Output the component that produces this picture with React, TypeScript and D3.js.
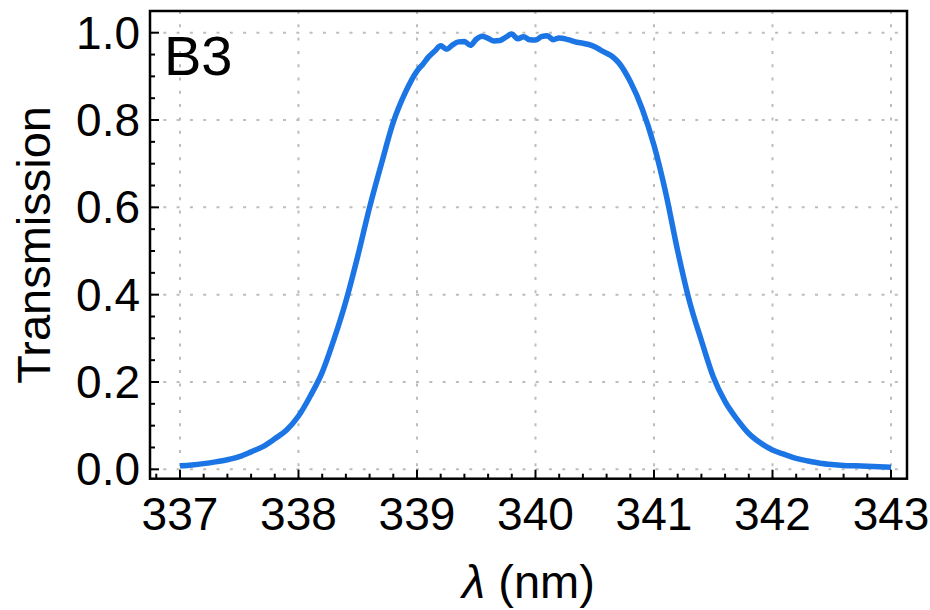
import { useEffect, useRef } from 'react';
import * as d3 from 'd3';

const wavelength = [
  337.0, 337.1, 337.2, 337.3, 337.4, 337.5, 337.6, 337.7, 337.8, 337.9,
  338.0, 338.1, 338.2, 338.3, 338.4, 338.5, 338.6, 338.7, 338.8, 338.9,
  339.0, 339.05, 339.1, 339.15, 339.2, 339.25, 339.3, 339.35, 339.4, 339.45,
  339.5, 339.55, 339.6, 339.65, 339.7, 339.75, 339.8, 339.85, 339.9, 339.95,
  340.0, 340.05, 340.1, 340.15, 340.2, 340.25, 340.3, 340.35, 340.4, 340.45,
  340.5, 340.55, 340.6, 340.65, 340.7, 340.8, 340.9, 341.0, 341.1, 341.2,
  341.3, 341.4, 341.5, 341.6, 341.7, 341.8, 341.9, 342.0, 342.1, 342.2,
  342.3, 342.4, 342.5, 342.6, 342.7, 342.8, 342.9, 343.0,
];
const transmission = [
  0.008, 0.010, 0.013, 0.017, 0.022, 0.029, 0.040, 0.052, 0.070, 0.090,
  0.122, 0.168, 0.222, 0.298, 0.385, 0.488, 0.600, 0.700, 0.795, 0.862,
  0.912, 0.928, 0.945, 0.958, 0.970, 0.962, 0.972, 0.979, 0.980, 0.971,
  0.985, 0.992, 0.987, 0.981, 0.982, 0.990, 0.997, 0.986, 0.991, 0.984,
  0.983, 0.991, 0.993, 0.984, 0.988, 0.986, 0.982, 0.978, 0.976, 0.973,
  0.968, 0.960, 0.953, 0.945, 0.932, 0.888, 0.826, 0.742, 0.632, 0.500,
  0.384, 0.295, 0.212, 0.155, 0.115, 0.082, 0.060, 0.044, 0.034, 0.025,
  0.019, 0.014, 0.011, 0.009, 0.008, 0.007, 0.006, 0.005,
];
const xTicks = [337, 338, 339, 340, 341, 342, 343];
const yTicks = [0, 0.2, 0.4, 0.6, 0.8, 1.0];
const panelLabel = 'B3';

const W = 930;
const H = 610;
const font = '"Liberation Sans", Arial, Helvetica, sans-serif';

export default function App() {
  const svgRef = useRef<SVGSVGElement>(null);

  useEffect(() => {
    if (!svgRef.current) return;
    const svg = d3.select(svgRef.current);
    svg.selectAll('*').remove();

    const left = 150, right = 907, top = 11, bottom = 478.7;

    const x = d3.scaleLinear().domain([336.747, 343.135]).range([left, right]);
    const y = d3.scaleLinear().domain([-0.0215, 1.0497]).range([bottom, top]);

    const grid = svg.append('g')
      .attr('stroke', '#bdbdbd')
      .attr('stroke-width', 2)
      .attr('stroke-dasharray', '3,10.3');

    // Grid lines
    grid.selectAll('.gx')
      .data(xTicks)
      .enter()
      .append('line')
      .attr('x1', d => x(d))
      .attr('x2', d => x(d))
      .attr('y1', top)
      .attr('y2', bottom);

    grid.selectAll('.gy')
      .data(yTicks)
      .enter()
      .append('line')
      .attr('x1', left)
      .attr('x2', right)
      .attr('y1', d => y(d))
      .attr('y2', d => y(d));

    // Curve
    const pts = wavelength.map((w, i) => [w, transmission[i]] as [number, number]);
    const line = d3.line<[number, number]>()
      .x(d => x(d[0]))
      .y(d => y(d[1]))
      .curve(d3.curveMonotoneX);

    svg.append('path')
      .datum(pts)
      .attr('d', line)
      .attr('fill', 'none')
      .attr('stroke', '#1c75e5')
      .attr('stroke-width', 5.5)
      .attr('stroke-linejoin', 'round')
      .attr('stroke-linecap', 'butt');

    // Ticks (inward)
    const xMinor = d3.range(336.8, 343.13, 0.2).filter(v => !xTicks.some(t => Math.abs(t - v) < 1e-6));
    const yMinor = d3.range(0, 1.04, 0.05).filter(v => !yTicks.some(t => Math.abs(t - v) < 1e-6));

    const ticks = svg.append('g').attr('stroke', '#000').attr('stroke-width', 2);
    ticks.selectAll('.xM').data(xTicks).enter().append('line')
      .attr('x1', d => x(d)).attr('x2', d => x(d))
      .attr('y1', bottom).attr('y2', bottom - 9);
    ticks.selectAll('.xm').data(xMinor).enter().append('line')
      .attr('x1', d => x(d)).attr('x2', d => x(d))
      .attr('y1', bottom).attr('y2', bottom - 5);
    ticks.selectAll('.yM').data(yTicks).enter().append('line')
      .attr('x1', left).attr('x2', left + 9)
      .attr('y1', d => y(d)).attr('y2', d => y(d));
    ticks.selectAll('.ym').data(yMinor).enter().append('line')
      .attr('x1', left).attr('x2', left + 5)
      .attr('y1', d => y(d)).attr('y2', d => y(d));

    // Frame
    svg.append('rect')
      .attr('x', left)
      .attr('y', top)
      .attr('width', right - left)
      .attr('height', bottom - top)
      .attr('fill', 'none')
      .attr('stroke', '#000')
      .attr('stroke-width', 2.5);

    // Tick labels
    svg.selectAll('.xl').data(xTicks).enter().append('text')
      .attr('x', d => x(d))
      .attr('y', 530)
      .attr('text-anchor', 'middle')
      .attr('font-family', font)
      .attr('font-size', 46)
      .text(d => d3.format('d')(d));

    svg.selectAll('.yl').data(yTicks).enter().append('text')
      .attr('x', 140)
      .attr('y', d => y(d) + 16)
      .attr('text-anchor', 'end')
      .attr('font-family', font)
      .attr('font-size', 46)
      .text(d => d3.format('.1f')(d));

    // Axis titles
    const xt = svg.append('text')
      .attr('x', (left + right) / 2)
      .attr('y', 598)
      .attr('text-anchor', 'middle')
      .attr('font-family', font)
      .attr('font-size', 47);
    xt.append('tspan').attr('font-style', 'italic').text('λ');
    xt.append('tspan').text(' (nm)');

    svg.append('text')
      .attr('transform', `translate(50,${(top + bottom) / 2}) rotate(-90)`)
      .attr('text-anchor', 'middle')
      .attr('font-family', font)
      .attr('font-size', 47)
      .text('Transmission');

    // Panel label
    svg.append('text')
      .attr('x', 164)
      .attr('y', 75)
      .attr('font-family', font)
      .attr('font-size', 56)
      .text(panelLabel);
  }, []);

  return (
    <svg
      ref={svgRef}
      width={W}
      height={H}
      style={{ position: 'absolute', left: 0, top: 0, background: '#fff' }}
    ></svg>
  );
}
